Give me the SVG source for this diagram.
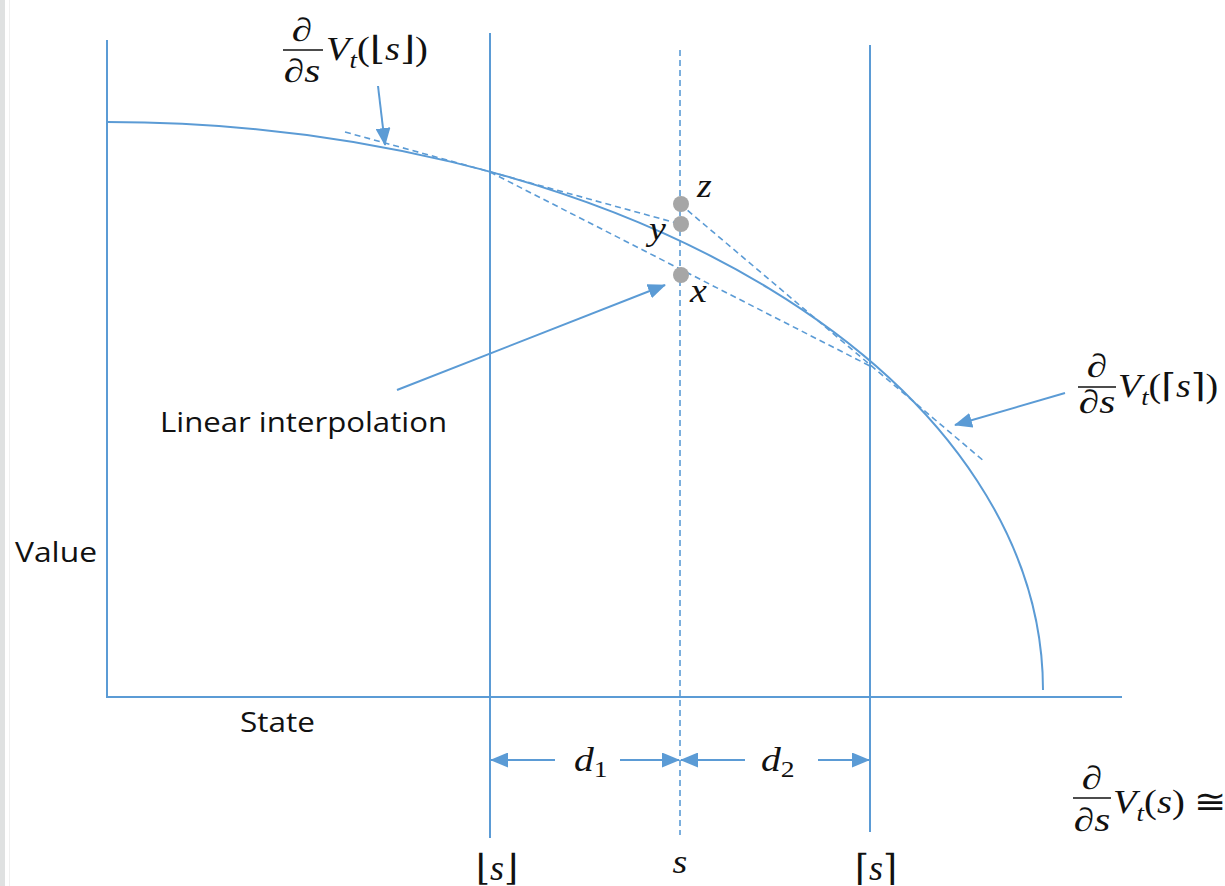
<svg xmlns="http://www.w3.org/2000/svg" width="1225" height="886" viewBox="0 0 1225 886">
<style>
.ln{stroke:#5b9bd5;stroke-width:2;fill:none}
.dl{stroke:#5b9bd5;stroke-width:1.6;fill:none;stroke-dasharray:6 4}
.ar{stroke:#5b9bd5;stroke-width:2;fill:none;marker-end:url(#ah)}
.sans{font-family:"Open Sans","Noto Sans",sans-serif;font-size:27px;fill:#111111}
.m{font-family:"Liberation Serif","DejaVu Serif",serif;font-size:33px;fill:#111111}
.i{font-style:italic}
.sub{font-size:23px}
.tk{font-size:36px}
.dot{fill:#a6a6a6}
.bar{stroke:#111111;stroke-width:1.7}
</style>
<defs>
<marker id="ah" viewBox="0 0 18 15" refX="17" refY="7.5" markerWidth="18" markerHeight="15" markerUnits="userSpaceOnUse" orient="auto">
<path d="M0,0 L18,7.5 L0,15 z" fill="#5b9bd5"/>
</marker>
</defs>
<rect width="1225" height="886" fill="#ffffff"/>
<rect x="0" y="0" width="5" height="886" fill="#dfe1e1"/>
<line x1="9.5" y1="0" x2="9.5" y2="886" stroke="#f0f0f0" stroke-width="1"/>

<g id="axes">
<line class="ln" x1="107" y1="40" x2="107" y2="697"/>
<line class="ln" x1="106" y1="697" x2="1122" y2="697"/>
</g>
<g id="guides">
<line class="ln" x1="490" y1="33" x2="490" y2="838"/>
<line class="ln" x1="870" y1="45" x2="870" y2="832"/>
<line class="dl" x1="680" y1="50" x2="680" y2="835"/>
</g>
<g id="curve">
<path class="ln" d="M107,122 A936,568 0 0,1 1043,690"/>
</g>
<g id="tangents">
<line class="dl" x1="345" y1="132" x2="680" y2="224"/>
<line class="dl" x1="680" y1="204" x2="985" y2="462"/>
<line class="dl" x1="490" y1="172" x2="870" y2="366"/>
</g>
<g id="points">
<circle class="dot" cx="681" cy="204" r="8"/>
<circle class="dot" cx="681" cy="224" r="8"/>
<circle class="dot" cx="681" cy="275" r="8"/>
<g transform="translate(697,197) scale(1.15,1)"><text class="m i" x="0" y="0">z</text></g>
<g transform="translate(649,240) scale(1.15,1)"><text class="m i" x="0" y="0">y</text></g>
<g transform="translate(690,302) scale(1.15,1)"><text class="m i" x="0" y="0">x</text></g>
</g>

<g id="connectors">
<line class="ar" x1="378" y1="86" x2="385" y2="145"/>
<line class="ar" x1="397" y1="390" x2="665" y2="285"/>
<line class="ar" x1="1065" y1="393" x2="955" y2="425"/>
<line class="ar" x1="555" y1="760" x2="491" y2="760"/>
<line class="ar" x1="620" y1="760" x2="679" y2="760"/>
<line class="ar" x1="745" y1="760" x2="681" y2="760"/>
<line class="ar" x1="818" y1="760" x2="869" y2="760"/>
</g>

<g id="label-left-derivative">
<g transform="translate(302,41) scale(1.25,1)"><text class="m i" x="0" y="0" text-anchor="middle">∂</text></g>
<line class="bar" x1="283" y1="50" x2="323" y2="50"/>
<g transform="translate(302,82) scale(1.25,1)"><text class="m i" x="0" y="0" text-anchor="middle">∂s</text></g>
<g transform="translate(326,60) scale(1.17,1)"><text class="m" x="0" y="0"><tspan class="i">V</tspan><tspan class="i sub" dy="8">t</tspan><tspan dy="-8">(⌊</tspan><tspan class="i">s</tspan><tspan>⌋)</tspan></text></g>
</g>

<g id="label-right-derivative">
<g transform="translate(1097,377) scale(1.25,1)"><text class="m i" x="0" y="0" text-anchor="middle">∂</text></g>
<line class="bar" x1="1078" y1="387" x2="1116" y2="387"/>
<g transform="translate(1097,413) scale(1.25,1)"><text class="m i" x="0" y="0" text-anchor="middle">∂s</text></g>
<g transform="translate(1118,397) scale(1.15,1)"><text class="m" x="0" y="0"><tspan class="i">V</tspan><tspan class="i sub" dy="8">t</tspan><tspan dy="-8">(⌈</tspan><tspan class="i">s</tspan><tspan>⌉)</tspan></text></g>
</g>

<g id="label-bottom-right">
<g transform="translate(1092,789) scale(1.25,1)"><text class="m i" x="0" y="0" text-anchor="middle">∂</text></g>
<line class="bar" x1="1073" y1="798" x2="1111" y2="798"/>
<g transform="translate(1092,831) scale(1.25,1)"><text class="m i" x="0" y="0" text-anchor="middle">∂s</text></g>
<g transform="translate(1113,813) scale(1.17,1)"><text class="m" x="0" y="0"><tspan class="i">V</tspan><tspan class="i sub" dy="8">t</tspan><tspan dy="-8">(</tspan><tspan class="i">s</tspan><tspan>) ≅</tspan></text></g>
</g>

<g id="label-d1">
<g transform="translate(574,771) scale(1.2,1)"><text class="m" x="0" y="0"><tspan class="i">d</tspan><tspan class="sub" dy="6">1</tspan></text></g>
</g>
<g id="label-d2">
<g transform="translate(761,771) scale(1.2,1)"><text class="m" x="0" y="0"><tspan class="i">d</tspan><tspan class="sub" dy="6">2</tspan></text></g>
</g>

<g id="axis-ticks">
<g transform="translate(497,880) scale(1.0,1)"><text class="m tk" x="0" y="0" text-anchor="middle">⌊<tspan class="i">s</tspan>⌋</text></g>
<g transform="translate(680,873) scale(1.15,1)"><text class="m i" x="0" y="0" text-anchor="middle">s</text></g>
<g transform="translate(876,880) scale(1.0,1)"><text class="m tk" x="0" y="0" text-anchor="middle">⌈<tspan class="i">s</tspan>⌉</text></g>
</g>

<g id="text-labels">
<text class="sans" x="15" y="562" textLength="82" lengthAdjust="spacingAndGlyphs">Value</text>
<text class="sans" x="240" y="732" textLength="75" lengthAdjust="spacingAndGlyphs">State</text>
<text class="sans" x="160" y="432" textLength="287" lengthAdjust="spacingAndGlyphs">Linear interpolation</text>
</g>
</svg>
